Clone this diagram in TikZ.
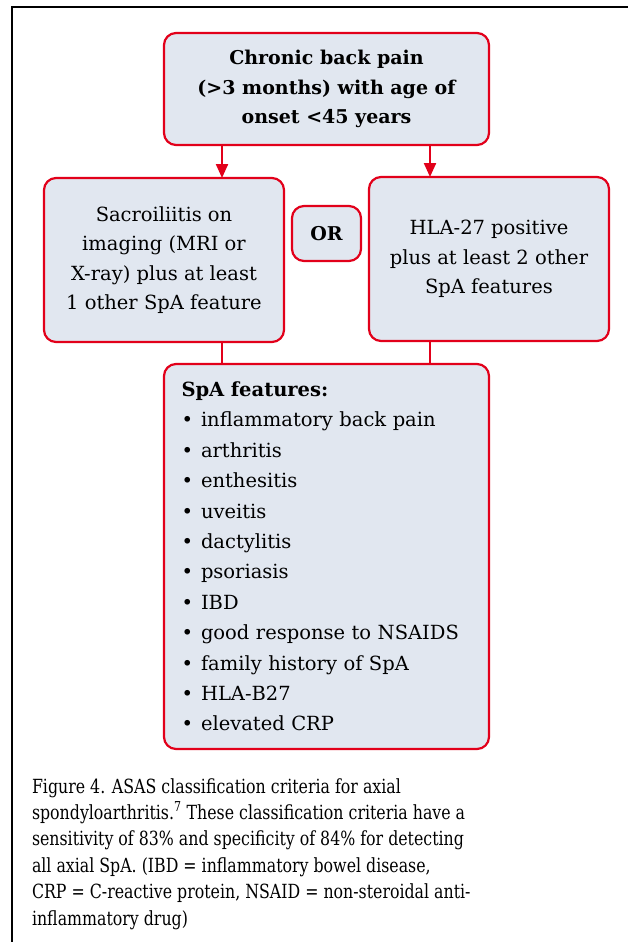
\documentclass[tikz,border=0pt]{standalone}
\usepackage{fontspec}
\setmainfont{DejaVu Serif}
\newfontfamily\capfont{DejaVu Serif}[FakeStretch=0.81]
\usetikzlibrary{arrows.meta}
\definecolor{boxred}{HTML}{E2001A}
\definecolor{boxfill}{HTML}{E1E7F0}

\begin{document}
\begin{tikzpicture}[x=1pt,y=-1pt,inner sep=0pt,outer sep=0pt,line width=2pt,
critbox/.style={draw=boxred,fill=boxfill,rounded corners=12pt,line width=2.2pt,align=center,
  font=\fontsize{19.5}{29.5}\selectfont},
critarrow/.style={draw=boxred,line width=2.2pt,-{Triangle[length=14pt,width=12pt]}},
critline/.style={draw=boxred,line width=2.2pt}]

\useasboundingbox (0,0) rectangle (628,942);
\draw[line width=1.6pt] (12,942) |- (628,7);

\draw (326.5,89) node[critbox,minimum width=325pt,minimum height=112pt,
  font=\fontsize{19}{29.5}\selectfont\bfseries] (onset)
  {Chronic back pain\\(>3 months) with age of\\onset <45 years};
\draw (164,260) node[critbox,minimum width=240pt,minimum height=164pt] (sacro)
  {Sacroiliitis on\\imaging (MRI or\\X-ray) plus at least\\1 other SpA feature};
\draw (326.5,233.5) node[critbox,minimum width=69pt,minimum height=55pt,
  font=\fontsize{19}{29.5}\selectfont\bfseries] (or) {OR};
\draw (489,259) node[critbox,minimum width=240pt,minimum height=164pt] (hla)
  {HLA-27 positive\\plus at least 2 other\\SpA features};
\draw (326.5,556.5) node[critbox,minimum width=325pt,minimum height=385pt,align=left,
  text width=290pt,font=\fontsize{19.5}{30.4}\selectfont] (feat)
  {\textbf{SpA features:}\\
   \textbullet\hspace{8pt}inflammatory back pain\\
   \textbullet\hspace{8pt}arthritis\\
   \textbullet\hspace{8pt}enthesitis\\
   \textbullet\hspace{8pt}uveitis\\
   \textbullet\hspace{8pt}dactylitis\\
   \textbullet\hspace{8pt}psoriasis\\
   \textbullet\hspace{8pt}IBD\\
   \textbullet\hspace{8pt}good response to NSAIDS\\
   \textbullet\hspace{8pt}family history of SpA\\
   \textbullet\hspace{8pt}HLA-B27\\
   \textbullet\hspace{8pt}elevated CRP};

\coordinate (la) at (222,0);
\coordinate (ra) at (430,0);
\draw[critarrow] (onset.south -| la) -- (sacro.north -| la);
\draw[critarrow] (onset.south -| ra) -- (hla.north -| ra);
\draw[critline] (sacro.south -| la) -- (feat.north -| la);
\draw[critline] (hla.south -| ra) -- (feat.north -| ra);

\node[anchor=base west,align=left,font=\capfont\fontsize{19.5}{26.4}\selectfont] (caption) at (32,925)
  {Figure 4. ASAS classification criteria for axial\\
   spondyloarthritis.\textsuperscript{7} These classification criteria have a\\
   sensitivity of 83\% and specificity of 84\% for detecting\\
   all axial SpA. (IBD = inflammatory bowel disease,\\
   CRP = C-reactive protein, NSAID = non-steroidal anti-\\
   inflammatory drug)};
\end{tikzpicture}
\end{document}
